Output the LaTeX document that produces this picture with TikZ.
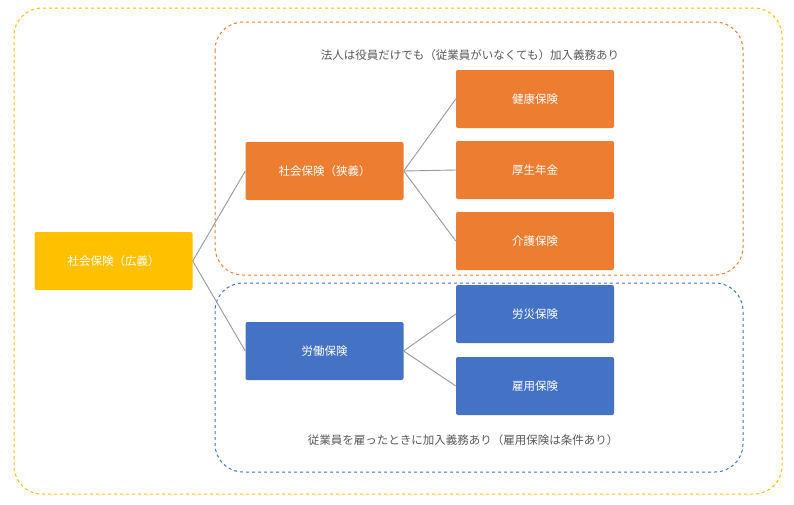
\documentclass[tikz,border=0pt]{standalone}
\usepackage{fontspec}
\newfontfamily\cjk{Noto Sans CJK JP}
\definecolor{ora}{HTML}{ED7D31}
\definecolor{blu}{HTML}{4472C4}
\definecolor{yel}{HTML}{FFC000}
\definecolor{txt}{HTML}{595959}
\begin{document}
\begin{tikzpicture}[x=1pt,y=-1pt,font=\cjk\fontsize{11.5}{13}\selectfont,
 box/.style={draw=none,fill=#1,text=white,minimum width=158pt,minimum height=58pt,inner sep=0pt,rounded corners=2pt},
 frame/.style={draw=#1,dashed,line width=1pt,rounded corners=28pt},
 ln/.style={draw=gray!80,line width=0.9pt}]
\useasboundingbox (0,0) rectangle (794,504);
\draw[frame=yel] (14,8) rectangle (782,494);
\draw[frame=ora] (215,22) rectangle (743,275);
\draw[frame=blu] (215,283) rectangle (743,472);
\node[box=yel] (a) at (113.5,261) {社会保険（広義）};
\node[box=ora] (b) at (324.5,171) {社会保険（狭義）};
\node[box=blu] (c) at (324.5,351) {労働保険};
\node[box=ora] (d1) at (535,99) {健康保険};
\node[box=ora] (d2) at (535,170) {厚生年金};
\node[box=ora] (d3) at (535,241) {介護保険};
\node[box=blu] (e1) at (535,314) {労災保険};
\node[box=blu] (e2) at (535,386) {雇用保険};
\node[text=txt] (t1) at (470,55) {法人は役員だけでも（従業員がいなくても）加入義務あり};
\node[text=txt] (t2) at (463,440) {従業員を雇ったときに加入義務あり（雇用保険は条件あり）};
\draw[ln] (a.east) -- (b.west);
\draw[ln] (a.east) -- (c.west);
\draw[ln] (b.east) -- (d1.west);
\draw[ln] (b.east) -- (d2.west);
\draw[ln] (b.east) -- (d3.west);
\draw[ln] (c.east) -- (e1.west);
\draw[ln] (c.east) -- (e2.west);
\end{tikzpicture}
\end{document}
